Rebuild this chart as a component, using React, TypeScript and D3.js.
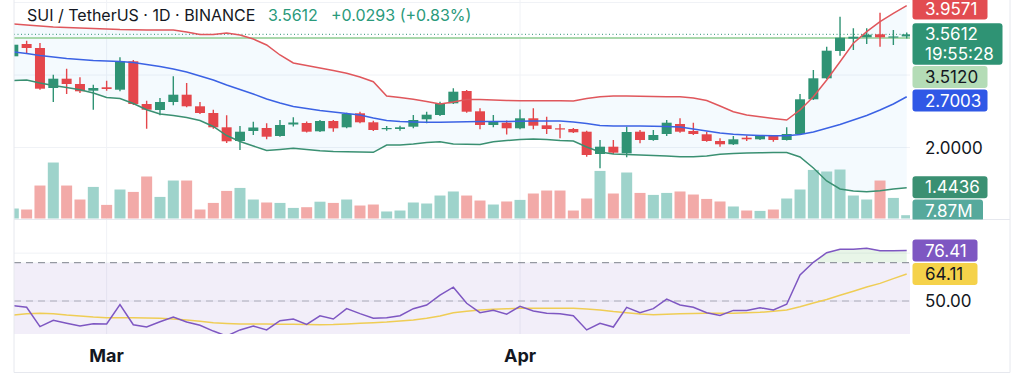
import React from "react";
import * as d3 from "d3";

// ---------- data: SUI/USDT daily, Bollinger Bands (20, 2), volume and RSI (14) ----------
const DAYS = d3.utcDay.range(new Date(Date.UTC(2025, 1, 22)), new Date(Date.UTC(2025, 4, 1)));

const OPEN = [
  3.2579, 3.4276, 3.3724, 2.8207, 2.949, 2.8759, 2.7835, 2.8304, 2.7973, 3.189,
  2.6, 2.5172, 2.6276, 2.7283, 2.5683, 2.4759, 2.2786, 2.0897, 2.2276, 2.269,
  2.1586, 2.3173, 2.3379, 2.2235, 2.3655, 2.2786, 2.4717, 2.3476, 2.2552, 2.2552,
  2.2869, 2.389, 2.4483, 2.6097, 2.7793, 2.4993, 2.3104, 2.3421, 2.2648, 2.4028,
  2.3062, 2.2648, 2.2552, 2.2179, 1.9104, 2.0111, 1.92, 2.2179, 2.1034, 2.1862,
  2.3242, 2.2276, 2.1821, 2.0897, 2.0442, 2.1352, 2.1131, 2.1586, 2.1034, 2.1862,
  2.6648, 2.9545, 3.3311, 3.5007, 3.52, 3.5614, 3.5242, 3.5319,
];
const HIGH = [
  3.4414, 3.4731, 3.4414, 3.0042, 3.0869, 2.9683, 2.8662, 2.9214, 3.2442, 3.2069,
  2.6455, 2.6828, 2.9821, 2.8897, 2.6276, 2.5214, 2.4442, 2.2966, 2.3559, 2.3338,
  2.3793, 2.4166, 2.3586, 2.3793, 2.3793, 2.48, 2.4938, 2.3697, 2.2966, 2.3007,
  2.4483, 2.4938, 2.6317, 2.8166, 2.7931, 2.5407, 2.4483, 2.3724, 2.5242, 2.5407,
  2.4248, 2.3242, 2.269, 2.2317, 2.1034, 2.1034, 2.2869, 2.2414, 2.2414, 2.3793,
  2.4028, 2.3421, 2.2179, 2.1269, 2.1586, 2.1655, 2.1724, 2.1724, 2.2786, 2.7379,
  3.069, 3.3904, 3.8042, 3.6442, 3.6442, 3.8593, 3.6207, 3.585,
];
const LOW = [
  3.2483, 3.3035, 2.7973, 2.6276, 2.7379, 2.7518, 2.5214, 2.7835, 2.7752, 2.5862,
  2.2593, 2.4442, 2.5821, 2.5545, 2.4621, 2.2593, 2.0621, 1.9655, 2.1724, 2.1131,
  2.149, 2.2897, 2.2069, 2.2138, 2.2179, 2.2648, 2.3338, 2.2276, 2.2317, 2.2317,
  2.2648, 2.3338, 2.4345, 2.6, 2.48, 2.2511, 2.2786, 2.1793, 2.2524, 2.2511,
  2.1862, 2.1269, 2.2, 1.8731, 1.7131, 1.9104, 1.8648, 2.0579, 2.0938, 2.1586,
  2.2042, 2.1724, 2.08, 2.0111, 2.0345, 2.0897, 2.1034, 2.08, 2.0966, 2.1724,
  2.6552, 2.9448, 3.2662, 3.3448, 3.4276, 3.3904, 3.4138, 3.505,
];
const CLOSE = [
  3.4179, 3.3724, 2.8111, 2.949, 2.8759, 2.7752, 2.8207, 2.8069, 3.189, 2.6,
  2.5214, 2.6276, 2.7283, 2.5683, 2.4759, 2.2786, 2.0855, 2.2179, 2.2759, 2.149,
  2.3104, 2.3448, 2.2179, 2.3655, 2.2648, 2.4621, 2.3476, 2.2414, 2.269, 2.2786,
  2.3793, 2.4524, 2.6097, 2.7697, 2.4938, 2.3104, 2.3559, 2.2648, 2.4028, 2.3007,
  2.2552, 2.2511, 2.2097, 1.8966, 2.0111, 1.9283, 2.2138, 2.1034, 2.1724, 2.3421,
  2.2179, 2.1862, 2.0897, 2.0442, 2.1131, 2.1131, 2.1586, 2.1034, 2.1862, 2.6648,
  2.9545, 3.3352, 3.5145, 3.5283, 3.5559, 3.52, 3.5319, 3.5612,
];
// volume in millions of SUI
const VOLUME_M = [
  23.8, 21.4, 78.5, 133.3, 78.5, 45.2, 75.2, 32.4, 69.0, 63.3,
  100.0, 51.4, 90.4, 90.4, 21.4, 37.1, 65.7, 72.8, 45.2, 38.1,
  37.1, 25.2, 26.9, 40.0, 37.1, 45.2, 30.9, 33.3, 16.7, 19.0,
  38.1, 35.7, 54.7, 64.3, 54.7, 42.8, 33.3, 40.5, 44.3, 59.5,
  66.6, 66.6, 19.0, 47.6, 113.3, 59.5, 109.5, 60.9, 56.2, 60.9,
  64.3, 57.1, 46.6, 40.5, 28.6, 19.0, 18.1, 21.4, 47.6, 69.0,
  115.7, 111.9, 116.6, 54.7, 45.2, 90.4, 49.0, 7.87,
];
const BB_UPPER = [
  3.7035, 3.6897, 3.6759, 3.6621, 3.6552, 3.6483, 3.6414, 3.6345, 3.6276, 3.6248,
  3.6207, 3.6207, 3.6207, 3.5931, 3.5586, 3.5586, 3.5793, 3.5517, 3.4966, 3.4138,
  3.2759, 3.1655, 3.1311, 3.0966, 3.0621, 3.0235, 2.9724, 2.9076, 2.7104, 2.6897,
  2.6648, 2.6345, 2.6, 2.6276, 2.6621, 2.6621, 2.6552, 2.6483, 2.6455, 2.6455,
  2.6455, 2.6455, 2.6414, 2.6759, 2.7007, 2.7104, 2.7104, 2.7062, 2.7035, 2.7007,
  2.7007, 2.6828, 2.6483, 2.5724, 2.4938, 2.4483, 2.4248, 2.4, 2.3793, 2.5172,
  2.7007, 2.931, 3.1835, 3.4373, 3.5973, 3.7352, 3.8511, 3.9571,
];
const BB_BASIS = [
  3.3173, 3.2966, 3.269, 3.2483, 3.2276, 3.2138, 3.2, 3.1931, 3.1862, 3.1724,
  3.1448, 3.1172, 3.0828, 3.0414, 2.9862, 2.931, 2.8621, 2.8, 2.7379, 2.669,
  2.6138, 2.5655, 2.5379, 2.5103, 2.4897, 2.469, 2.4483, 2.4069, 2.3724, 2.3586,
  2.3517, 2.3476, 2.3476, 2.3517, 2.3559, 2.3586, 2.3586, 2.3586, 2.3628, 2.3655,
  2.3655, 2.3655, 2.3517, 2.331, 2.3034, 2.2966, 2.2966, 2.2966, 2.2938, 2.2897,
  2.2828, 2.2552, 2.2276, 2.2, 2.1821, 2.1724, 2.1655, 2.1628, 2.1628, 2.1793,
  2.2138, 2.2648, 2.3172, 2.3793, 2.4414, 2.5172, 2.6, 2.7003,
];
const BB_LOWER = [
  2.9242, 2.931, 2.8897, 2.8552, 2.8276, 2.7973, 2.7517, 2.6897, 2.6759, 2.6069,
  2.5214, 2.4621, 2.4414, 2.4138, 2.3724, 2.2897, 2.1655, 2.0828, 2.0207, 1.9586,
  1.9724, 1.989, 1.9724, 1.9559, 1.9448, 1.9421, 1.9379, 1.9338, 2.0345, 2.0345,
  2.0483, 2.069, 2.08, 2.0483, 2.0441, 2.0414, 2.08, 2.0966, 2.1103, 2.1172,
  2.1103, 2.0966, 2.0897, 2.0069, 1.9379, 1.9104, 1.9035, 1.8966, 1.8897, 1.8828,
  1.8731, 1.8731, 1.8828, 1.9062, 1.9172, 1.9241, 1.9269, 1.931, 1.931, 1.869,
  1.7172, 1.5379, 1.4276, 1.4, 1.3903, 1.4042, 1.4276, 1.4436,
];
const RSI = [
  47.5, 46.7, 36.6, 39.9, 38.4, 36.9, 38.1, 38.0, 48.1, 37.6,
  36.4, 39.2, 41.6, 39.0, 37.3, 34.3, 31.7, 34.9, 36.9, 34.9,
  39.7, 40.6, 37.8, 42.3, 40.6, 46.0, 43.4, 41.0, 41.3, 42.3,
  46.0, 47.9, 53.1, 57.2, 48.8, 43.9, 45.1, 43.1, 47.2, 44.8,
  43.6, 43.4, 42.3, 34.9, 38.4, 36.4, 46.7, 43.9, 46.0, 51.0,
  47.9, 46.7, 43.9, 42.5, 45.1, 45.1, 46.5, 45.3, 48.3, 63.6,
  70.2, 75.2, 77.0, 77.0, 77.5, 76.3, 76.3, 76.41,
];
const RSI_MA = [
  42.7, 43.3, 43.6, 43.4, 42.7, 42.2, 41.6, 41.3, 41.3, 41.3,
  41.1, 41.0, 40.6, 40.1, 39.4, 38.7, 38.3, 38.0, 38.0, 38.0,
  37.9, 37.8, 37.7, 37.6, 37.7, 38.0, 38.4, 38.7, 39.0, 39.6,
  40.1, 41.0, 42.2, 43.9, 44.6, 45.3, 45.7, 45.9, 46.2, 46.2,
  46.2, 46.2, 46.2, 45.8, 45.3, 44.5, 43.9, 43.2, 42.8, 43.1,
  43.4, 43.5, 43.6, 43.6, 43.6, 43.8, 44.1, 44.6, 45.3, 47.0,
  49.0, 50.8, 53.0, 55.1, 57.3, 59.2, 61.7, 64.11,
];

const PRICE_TICKS = [2, 3, 4];
const RSI_TICKS = [50, 75];
const RSI_LEVELS = [70, 50];
const MONTH_TICKS = [new Date(Date.UTC(2025, 2, 1)), new Date(Date.UTC(2025, 3, 1))];
const REF_LEVEL = 3.512;
const SYMBOL = "SUI / TetherUS · 1D · BINANCE";
const COUNTDOWN = "19:55:28";

// ---------- layout & style ----------
const W = 1024;
const H = 374;
const PLOT_L = 14;
const PLOT_R = 910;
const AXIS_R = 1010;
const MAIN_B = 219.5;
const RSI_T = 220;
const RSI_B = 334;
const BOTTOM = 372.5;

const UP = "#2f9374";
const DOWN = "#e4464b";
const UP_VOL = "#9ed3cb";
const DOWN_VOL = "#f2aaa8";
const BB_UP = "#e0575c";
const BB_MID = "#3b62e4";
const BB_LO = "#3a9072";
const RSI_COL = "#7e57c2";
const MA_COL = "#efcd55";
const TEXT = "#131722";
const GRID = "#f0f2f6";
const FONT = "Inter, 'Noto Sans', sans-serif";

const x = d3
  .scaleUtc()
  .domain([DAYS[0], DAYS[DAYS.length - 1]])
  .range([13.3, 906.7]);
const yPrice = d3.scaleLinear().domain([1, 4]).range([220, 2.5]);
const yVol = d3.scaleLinear().domain([0, 150]).range([218.5, 155.5]);
const yRsi = d3.scaleLinear().domain([30, 70]).range([339.3, 262.7]);

const xi = (_: number, i: number) => x(DAYS[i]);

const bbArea = d3
  .area<number>()
  .x(xi)
  .y0((_, i) => yPrice(BB_LOWER[i]))
  .y1((v) => yPrice(v));
const priceLine = d3.line<number>().x(xi).y((v) => yPrice(v));
const rsiLine = d3.line<number>().x(xi).y((v) => yRsi(v));
const rsiArea = d3
  .area<number>()
  .x(xi)
  .y0(yRsi(70))
  .y1((v) => yRsi(v));

type Tag = {
  value: number;
  rows: string[];
  bg: string;
  fg: string;
  w: number;
  top?: number;
};

const ROW_H = 22;
const ROW_STEP = 19.5;
const GAP = 1.3;
const tagHeight = (t: Tag) => ROW_H + (t.rows.length - 1) * ROW_STEP;

// Push overlapping scale tags apart, keeping them inside [minTop, maxBottom]
function stackTags(tags: Tag[], minTop: number, maxBottom: number) {
  const sorted = [...tags].sort((a, b) => a.value - b.value);
  let prevBottom = -Infinity;
  for (const t of sorted) {
    let top = Math.max(minTop, t.value - ROW_H / 2);
    if (top < prevBottom + GAP) top = prevBottom + GAP;
    t.top = top;
    prevBottom = top + tagHeight(t);
  }
  let nextTop = maxBottom + GAP;
  for (let i = sorted.length - 1; i >= 0; i--) {
    const t = sorted[i];
    const h = tagHeight(t);
    if ((t.top as number) + h > nextTop - GAP) t.top = nextTop - GAP - h;
    if ((t.top as number) < minTop) t.top = minTop;
    nextTop = t.top as number;
  }
  return sorted;
}

// A tick label is hidden when a tag sits on top of it
const coveredBy = (y: number, tags: Tag[]) =>
  tags.some((t) => y + 7 > (t.top as number) && y - 7 < (t.top as number) + tagHeight(t));

const fmt4 = d3.format(".4f");
const fmt2 = d3.format(".2f");

function ScaleTag({ t }: { t: Tag }) {
  const top = t.top as number;
  return (
    <g>
      <rect x={912.5} y={top} width={t.w} height={tagHeight(t)} rx={3} fill={t.bg} />
      {t.rows.map((r, k) => (
        <text
          key={k}
          x={925}
          y={top + ROW_H / 2 + k * ROW_STEP}
          dy="0.36em"
          fontSize={17}
          fill={t.fg}
        >
          {r}
        </text>
      ))}
    </g>
  );
}

export default function App() {
  const n = DAYS.length;
  const last = n - 1;
  const change = CLOSE[last] - CLOSE[last - 1];
  const changePct = (change / CLOSE[last - 1]) * 100;

  const mainTags: Tag[] = [
    { value: yPrice(BB_UPPER[last]), rows: [fmt4(BB_UPPER[last])], bg: "#e24c51", fg: "#fff", w: 75 },
    { value: yPrice(CLOSE[last]), rows: [fmt4(CLOSE[last]), COUNTDOWN], bg: UP, fg: "#fff", w: 90 },
    { value: yPrice(REF_LEVEL), rows: [fmt4(REF_LEVEL)], bg: "#b4dcb6", fg: TEXT, w: 75 },
    { value: yPrice(BB_BASIS[last]), rows: [fmt4(BB_BASIS[last])], bg: "#3058e6", fg: "#fff", w: 75 },
    { value: yPrice(BB_LOWER[last]), rows: [fmt4(BB_LOWER[last])], bg: BB_LO, fg: "#fff", w: 75 },
    { value: yVol(VOLUME_M[last]), rows: [`${fmt2(VOLUME_M[last])}M`], bg: "#56a99c", fg: "#fff", w: 70.5 },
  ];
  const placedMain = stackTags(mainTags, -2.5, MAIN_B + 2);

  const rsiTags: Tag[] = [
    { value: yRsi(RSI[last]), rows: [fmt2(RSI[last])], bg: RSI_COL, fg: "#fff", w: 65 },
    { value: yRsi(RSI_MA[last]), rows: [fmt2(RSI_MA[last])], bg: "#f5d24a", fg: TEXT, w: 65 },
  ];
  const placedRsi = stackTags(rsiTags, RSI_T, RSI_B);

  const priceTickLabels = PRICE_TICKS.filter(
    (p) => yPrice(p) > 6 && yPrice(p) < MAIN_B - 6 && !coveredBy(yPrice(p), placedMain)
  );
  const rsiTickLabels = RSI_TICKS.filter(
    (r) => yRsi(r) > RSI_T + 6 && yRsi(r) < RSI_B - 6 && !coveredBy(yRsi(r), placedRsi)
  );

  return (
    <div style={{ position: "absolute", left: 0, top: 0, width: W, height: H, background: "#fff" }}>
      <svg width={W} height={H} style={{ display: "block", fontFamily: FONT }}>
        <defs>
          <clipPath id="main-pane">
            <rect x={PLOT_L} y={0} width={PLOT_R - PLOT_L} height={MAIN_B} />
          </clipPath>
          <clipPath id="rsi-pane">
            <rect x={PLOT_L} y={RSI_T} width={PLOT_R - PLOT_L} height={RSI_B - RSI_T} />
          </clipPath>
          <clipPath id="overbought">
            <rect x={PLOT_L} y={RSI_T} width={PLOT_R - PLOT_L} height={yRsi(70) - RSI_T} />
          </clipPath>
          <clipPath id="main-scale">
            <rect x={PLOT_R} y={-20} width={AXIS_R - PLOT_R} height={MAIN_B + 20} />
          </clipPath>
        </defs>

        <rect x={0} y={0} width={W} height={H} fill="#fff" />

        {/* grid */}
        <g stroke={GRID} strokeWidth={1}>
          {PRICE_TICKS.map((p) => (
            <line key={p} x1={PLOT_L} x2={PLOT_R} y1={yPrice(p)} y2={yPrice(p)} />
          ))}
          {RSI_TICKS.map((r) => (
            <line key={r} x1={PLOT_L} x2={PLOT_R} y1={yRsi(r)} y2={yRsi(r)} />
          ))}
          {MONTH_TICKS.map((d) => (
            <line key={+d} x1={x(d)} x2={x(d)} y1={0} y2={RSI_B} />
          ))}
        </g>

        {/* main pane */}
        <g clipPath="url(#main-pane)">
          <path d={bbArea(BB_UPPER) as string} fill="#2196f3" fillOpacity={0.05} />
          {VOLUME_M.map((v, i) => {
            const up = CLOSE[i] >= OPEN[i];
            const cx = x(DAYS[i]);
            return (
              <rect
                key={i}
                x={cx - 5.5}
                y={yVol(v)}
                width={11}
                height={yVol(0) - yVol(v)}
                fill={up ? UP_VOL : DOWN_VOL}
              />
            );
          })}
          <line
            x1={PLOT_L}
            x2={PLOT_R}
            y1={yPrice(REF_LEVEL)}
            y2={yPrice(REF_LEVEL)}
            stroke="#a9d8ab"
            strokeWidth={2}
          />
          <line
            x1={PLOT_L}
            x2={PLOT_R}
            y1={yPrice(CLOSE[last])}
            y2={yPrice(CLOSE[last])}
            stroke={UP}
            strokeWidth={1}
            strokeDasharray="1 2.5"
          />
          {DAYS.map((d, i) => {
            const up = CLOSE[i] >= OPEN[i];
            const col = up ? UP : DOWN;
            const cx = x(d);
            const yo = yPrice(OPEN[i]);
            const yc = yPrice(CLOSE[i]);
            return (
              <g key={i}>
                <line
                  x1={cx}
                  x2={cx}
                  y1={yPrice(HIGH[i])}
                  y2={yPrice(LOW[i])}
                  stroke={col}
                  strokeWidth={1.4}
                />
                <rect
                  x={cx - 5}
                  y={Math.min(yo, yc)}
                  width={10}
                  height={Math.max(1.2, Math.abs(yo - yc))}
                  fill={col}
                />
              </g>
            );
          })}
          <path d={priceLine(BB_UPPER) as string} fill="none" stroke={BB_UP} strokeWidth={1.5} />
          <path d={priceLine(BB_BASIS) as string} fill="none" stroke={BB_MID} strokeWidth={1.5} />
          <path d={priceLine(BB_LOWER) as string} fill="none" stroke={BB_LO} strokeWidth={1.5} />
        </g>

        {/* RSI pane */}
        <g clipPath="url(#rsi-pane)">
          <rect
            x={PLOT_L}
            y={yRsi(70)}
            width={PLOT_R - PLOT_L}
            height={yRsi(30) - yRsi(70)}
            fill="#7e57c2"
            fillOpacity={0.1}
          />
          <path
            d={rsiArea(RSI) as string}
            fill="#4caf50"
            fillOpacity={0.13}
            clipPath="url(#overbought)"
          />
          {RSI_LEVELS.map((lv, k) => (
            <line
              key={lv}
              x1={PLOT_L}
              x2={PLOT_R}
              y1={yRsi(lv)}
              y2={yRsi(lv)}
              stroke="#787b86"
              strokeOpacity={k === 0 ? 0.95 : 0.55}
              strokeWidth={1}
              strokeDasharray="7 5"
            />
          ))}
          <path d={rsiLine(RSI_MA) as string} fill="none" stroke={MA_COL} strokeWidth={1.5} />
          <path d={rsiLine(RSI) as string} fill="none" stroke={RSI_COL} strokeWidth={1.5} />
        </g>

        {/* frame */}
        <g stroke="#e6e8ee" strokeWidth={1}>
          <line x1={PLOT_L} x2={AXIS_R} y1={MAIN_B} y2={MAIN_B} />
          <line x1={PLOT_L} x2={PLOT_L} y1={0} y2={BOTTOM} />
          <line x1={AXIS_R} x2={AXIS_R} y1={0} y2={BOTTOM} />
          <line x1={PLOT_L} x2={AXIS_R} y1={BOTTOM} y2={BOTTOM} />
        </g>

        {/* price scale */}
        {priceTickLabels.map((p) => (
          <text key={p} x={925} y={yPrice(p)} dy="0.36em" fontSize={17} fill={TEXT}>
            {fmt4(p)}
          </text>
        ))}
        <g clipPath="url(#main-scale)">
          {placedMain.map((t, k) => (
            <ScaleTag key={k} t={t} />
          ))}
        </g>

        {/* RSI scale */}
        {rsiTickLabels.map((r) => (
          <text key={r} x={925} y={yRsi(r)} dy="0.36em" fontSize={17} fill={TEXT}>
            {fmt2(r)}
          </text>
        ))}
        {placedRsi.map((t, k) => (
          <ScaleTag key={k} t={t} />
        ))}

        {/* time axis */}
        {MONTH_TICKS.map((d) => (
          <text
            key={+d}
            x={x(d)}
            y={361.7}
            textAnchor="middle"
            fontSize={18}
            fontWeight={700}
            fill={TEXT}
          >
            {d3.utcFormat("%b")(d)}
          </text>
        ))}

        {/* legend */}
        <text x={27} y={20.7} fontSize={16} fill={TEXT}>
          {SYMBOL}
        </text>
        <text x={268} y={20.7} fontSize={16} fill="#2a9a7b">
          {fmt4(CLOSE[last])}
        </text>
        <text x={331} y={20.7} fontSize={16} fill="#2a9a7b">
          {`${change >= 0 ? "+" : ""}${fmt4(change)} (${change >= 0 ? "+" : ""}${fmt2(changePct)}%)`}
        </text>
      </svg>
    </div>
  );
}
